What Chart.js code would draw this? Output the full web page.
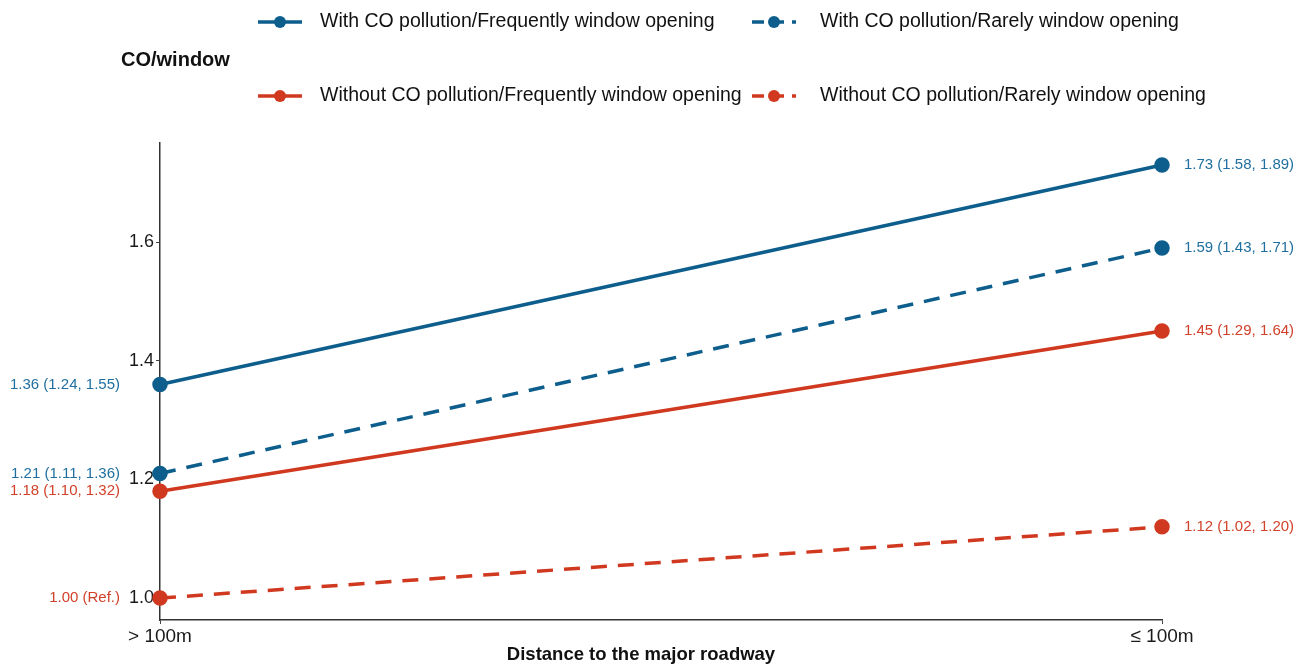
<!DOCTYPE html>
<html>
<head>
<meta charset="utf-8">
<script src="https://cdn.jsdelivr.net/npm/chart.js@4/dist/chart.umd.min.js"></script>
<style>
  html, body { margin: 0; padding: 0; background: #ffffff; }
  #wrap { width: 1308px; height: 666px; position: relative; }
</style>
</head>
<body>
<div id="wrap"><canvas id="chart" width="1308" height="666"></canvas></div>
<script>
// Distance categories on the x axis
const categories = ['> 100m', '≤ 100m'];

// Odds ratios per group
const withCoFrequent = [1.36, 1.73];
const withCoRare = [1.21, 1.59];
const withoutCoFrequent = [1.18, 1.45];
const withoutCoRare = [1.00, 1.12];

// Confidence intervals shown next to each point
const ciWithCoFrequent = ['(1.24, 1.55)', '(1.58, 1.89)'];
const ciWithCoRare = ['(1.11, 1.36)', '(1.43, 1.71)'];
const ciWithoutCoFrequent = ['(1.10, 1.32)', '(1.29, 1.64)'];
const ciWithoutCoRare = ['(Ref.)', '(1.02, 1.20)'];

const seriesNames = [
  'With CO pollution/Frequently window opening',
  'With CO pollution/Rarely window opening',
  'Without CO pollution/Frequently window opening',
  'Without CO pollution/Rarely window opening'
];

const yTicks = [1.0, 1.2, 1.4, 1.6];

const BLUE = '#0d5e8c';
const RED = '#d0391f';
const BLUE_TXT = '#1f6fa0';
const RED_TXT = '#d2412a';
const FONT = '"Liberation Sans", Arial, Helvetica, sans-serif';
const DASH = [16, 11];

function series(label, data, ci, color, txtColor, dashed) {
  return {
    label, data, ci, txtColor, dashed,
    borderColor: color,
    backgroundColor: color,
    pointBackgroundColor: color,
    pointBorderColor: color,
    borderWidth: 3.5,
    borderDash: dashed ? DASH : [],
    pointRadius: 6,
    pointHoverRadius: 6,
    tension: 0,
    clip: false
  };
}

const datasets = [
  series(seriesNames[0], withCoFrequent, ciWithCoFrequent, BLUE, BLUE_TXT, false),
  series(seriesNames[1], withCoRare, ciWithCoRare, BLUE, BLUE_TXT, true),
  series(seriesNames[2], withoutCoFrequent, ciWithoutCoFrequent, RED, RED_TXT, false),
  series(seriesNames[3], withoutCoRare, ciWithoutCoRare, RED, RED_TXT, true)
];

// Value + CI labels beside each point, legend block and axis title
const annotate = {
  id: 'annotate',
  afterDatasetsDraw(chart) {
    const ctx = chart.ctx;
    ctx.save();
    ctx.font = '15px ' + FONT;
    ctx.textBaseline = 'middle';
    chart.data.datasets.forEach((ds, di) => {
      const meta = chart.getDatasetMeta(di);
      meta.data.forEach((pt, i) => {
        const txt = ds.data[i].toFixed(2) + ' ' + ds.ci[i];
        ctx.fillStyle = ds.txtColor;
        if (i === 0) {
          ctx.textAlign = 'right';
          ctx.fillText(txt, pt.x - 40, pt.y);
        } else {
          ctx.textAlign = 'left';
          ctx.fillText(txt, pt.x + 22, pt.y);
        }
      });
    });
    ctx.restore();
  },
  afterDraw(chart) {
    const ctx = chart.ctx;
    ctx.save();
    // legend title
    ctx.fillStyle = '#111';
    ctx.font = 'bold 20px ' + FONT;
    ctx.textAlign = 'left';
    ctx.textBaseline = 'middle';
    ctx.fillText('CO/window', 121, 60);

    const symX = [258, 752];
    const txtX = [320, 820];
    const rowY = [22, 96];
    chart.data.datasets.forEach((ds, di) => {
      const col = di % 2, row = Math.floor(di / 2);
      const x0 = symX[col], y = rowY[row];
      ctx.strokeStyle = ds.borderColor;
      ctx.fillStyle = ds.borderColor;
      ctx.lineWidth = 3.5;
      ctx.setLineDash(ds.dashed ? [12, 8] : []);
      ctx.beginPath();
      ctx.moveTo(x0, y);
      ctx.lineTo(x0 + 44, y);
      ctx.stroke();
      ctx.setLineDash([]);
      ctx.beginPath();
      ctx.arc(x0 + 22, y, 6, 0, Math.PI * 2);
      ctx.fill();
      ctx.fillStyle = '#111';
      ctx.font = '19.5px ' + FONT;
      ctx.fillText(ds.label, txtX[col], y);
    });

    // x axis title
    ctx.fillStyle = '#111';
    ctx.font = 'bold 18.5px ' + FONT;
    ctx.textAlign = 'center';
    ctx.fillText('Distance to the major roadway', 641, 655);
    ctx.restore();
  }
};

new Chart(document.getElementById('chart'), {
  type: 'line',
  data: { labels: categories, datasets },
  options: {
    responsive: false,
    animation: false,
    devicePixelRatio: 1,
    layout: { padding: { top: 143, right: 146, bottom: 0, left: 0 } },
    plugins: { legend: { display: false }, tooltip: { enabled: false } },
    scales: {
      x: {
        type: 'category',
        offset: false,
        grid: { drawOnChartArea: false, drawTicks: true, tickLength: 4, color: '#444' },
        border: { display: true, color: '#333', width: 1.5 },
        ticks: { color: '#1a1a1a', font: { size: 19, family: FONT }, padding: 1, maxRotation: 0 },
        afterFit(s) { s.height = 46; }
      },
      y: {
        min: 0.963,
        max: 1.767,
        afterBuildTicks(s) { s.ticks = yTicks.map(v => ({ value: v })); },
        grid: { drawOnChartArea: false, drawTicks: true, tickLength: 4, color: '#444' },
        border: { display: true, color: '#333', width: 1.5 },
        ticks: {
          color: '#1a1a1a',
          font: { size: 18, family: FONT },
          padding: 2,
          callback: v => Number(v).toFixed(1)
        },
        afterFit(s) { s.width = 160; }
      }
    }
  },
  plugins: [annotate]
});
</script>
</body>
</html>
